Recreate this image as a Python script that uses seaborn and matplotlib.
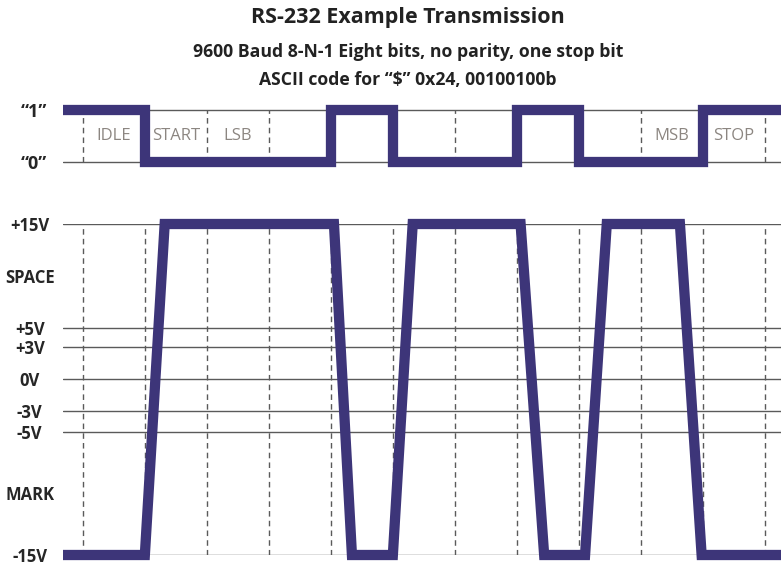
import numpy as np
import matplotlib
matplotlib.use("Agg")
import matplotlib.pyplot as plt
import seaborn as sns

# --- data ---
# logic level per bit slot (idle, start, b0..b7, stop), LSB first: 0x24 -> 00100100b
slot_edges = [-0.32, 1, 2, 3, 4, 5, 6, 7, 8, 9, 10, 11.26]
logic_levels = [1, 0, 0, 0, 1, 0, 0, 1, 0, 0, 1, 1]
slot_names = {0: "IDLE", 1: "START", 2: "LSB", 9: "MSB", 10: "STOP"}
bit_bounds = list(range(0, 12))

# line voltage (time in bit units, volts) as drawn, with slanted edges
volt_t = [-0.32, 1.0, 1.32, 4.05, 4.34, 5.0, 5.32, 7.06, 7.44, 8.10, 8.45, 9.63, 9.98, 11.26]
volt_v = [-15, -15, 15, 15, -15, -15, 15, 15, -15, -15, 15, 15, -15, -15]

volt_levels = [15, 5, 3, 0, -3, -5, -15]
volt_labels = ["+15V", "+5V", "+3V", "0V", "-3V", "-5V", "-15V"]
zone_levels = [10, -10]
zone_labels = ["SPACE", "MARK"]

# the drawing is not to scale: spacing of the voltage rows (V -> pixel row)
scale_v = [-15, -5, -3, 0, 3, 5, 15]
scale_row = [555, 432, 411, 379, 347, 328, 224]

purple = "#3d3579"
grid_c = "#5a5a5a"
lw = 7.4

sns.set_style("white")
plt.rcParams["font.family"] = ["Open Sans", "DejaVu Sans"]

W, H = 781, 565
fig = plt.figure(figsize=(W / 100, H / 100), dpi=100)


def box(x0, y0, x1, y1):
    return [x0 / W, 1 - y1 / H, (x1 - x0) / W, (y1 - y0) / H]


ax_top = fig.add_axes(box(63, 100, 781, 172))
ax_bot = fig.add_axes(box(63, 224, 781, 555))

xlim = (slot_edges[0], slot_edges[-1])

# ---- top: logic levels ----
for lv in [0, 1]:
    ax_top.axhline(lv, color=grid_c, lw=1.0, zorder=1)
ax_top.vlines(bit_bounds, 0, 1, colors=grid_c, linestyles=(0, (4, 3)), lw=1.0, zorder=1)
sns.lineplot(x=slot_edges, y=logic_levels, ax=ax_top, drawstyle="steps-post",
             color=purple, lw=lw, estimator=None, sort=False, zorder=3,
             solid_joinstyle="miter", solid_capstyle="butt", clip_on=False)
for k, name in slot_names.items():
    ax_top.text(k + 0.5, 0.5, name, ha="center", va="center", fontsize=12,
                color="#8c8681")
ax_top.set_xlim(*xlim)
ax_top.set_ylim(-10 / 52, 1 + 10 / 52)
ax_top.set_xticks([])
ax_top.set_yticks([1, 0], ["\u201c1\u201d", "\u201c0\u201d"])
ax_top.tick_params(axis="y", length=0, pad=11.5, labelsize=13)
for lab in ax_top.get_yticklabels():
    lab.set_fontweight("bold")
sns.despine(ax=ax_top, left=True, bottom=True)


# ---- bottom: line voltage ----
def fwd(v):
    return np.interp(v, scale_v, [-r for r in scale_row])


def inv(y):
    return np.interp(y, [-r for r in scale_row], scale_v)


ax_bot.set_yscale("function", functions=(fwd, inv))
for lv in volt_levels:
    ax_bot.axhline(lv, color=grid_c, lw=1.0, zorder=1)
ax_bot.vlines(bit_bounds, -15, 15, colors=grid_c, linestyles=(0, (4, 3)), lw=1.0, zorder=1)
sns.lineplot(x=volt_t, y=volt_v, ax=ax_bot, color=purple, lw=lw, estimator=None,
             sort=False, zorder=3, solid_joinstyle="miter", solid_capstyle="butt",
             clip_on=False)
ax_bot.set_xlim(*xlim)
ax_bot.set_ylim(-15, 15)
ax_bot.set_xticks([])
ax_bot.set_yticks(volt_levels + zone_levels, volt_labels + zone_labels)
ax_bot.yaxis.set_minor_locator(matplotlib.ticker.NullLocator())
ax_bot.tick_params(axis="y", length=0, pad=24, labelsize=12)
for lab in ax_bot.get_yticklabels():
    lab.set_fontweight("bold")
    lab.set_horizontalalignment("center")
ax_bot.set_xlabel("")
ax_bot.set_ylabel("")
ax_top.set_ylabel("")
sns.despine(ax=ax_bot, left=True, bottom=True)

# ---- titles ----
cx = 408 / W
fig.text(cx, 1 - 17 / H, "RS-232 Example Transmission", ha="center", va="center",
         fontsize=15.5, fontweight="bold", color="#222222")
fig.text(cx, 1 - 52 / H, "9600 Baud 8-N-1 Eight bits, no parity, one stop bit",
         ha="center", va="center", fontsize=12.7, fontweight="bold", color="#222222")
fig.text(cx, 1 - 80 / H, "ASCII code for \u201c$\u201d 0x24, 00100100b",
         ha="center", va="center", fontsize=12.7, fontweight="bold", color="#222222")

fig.savefig("out.png", dpi=100)
